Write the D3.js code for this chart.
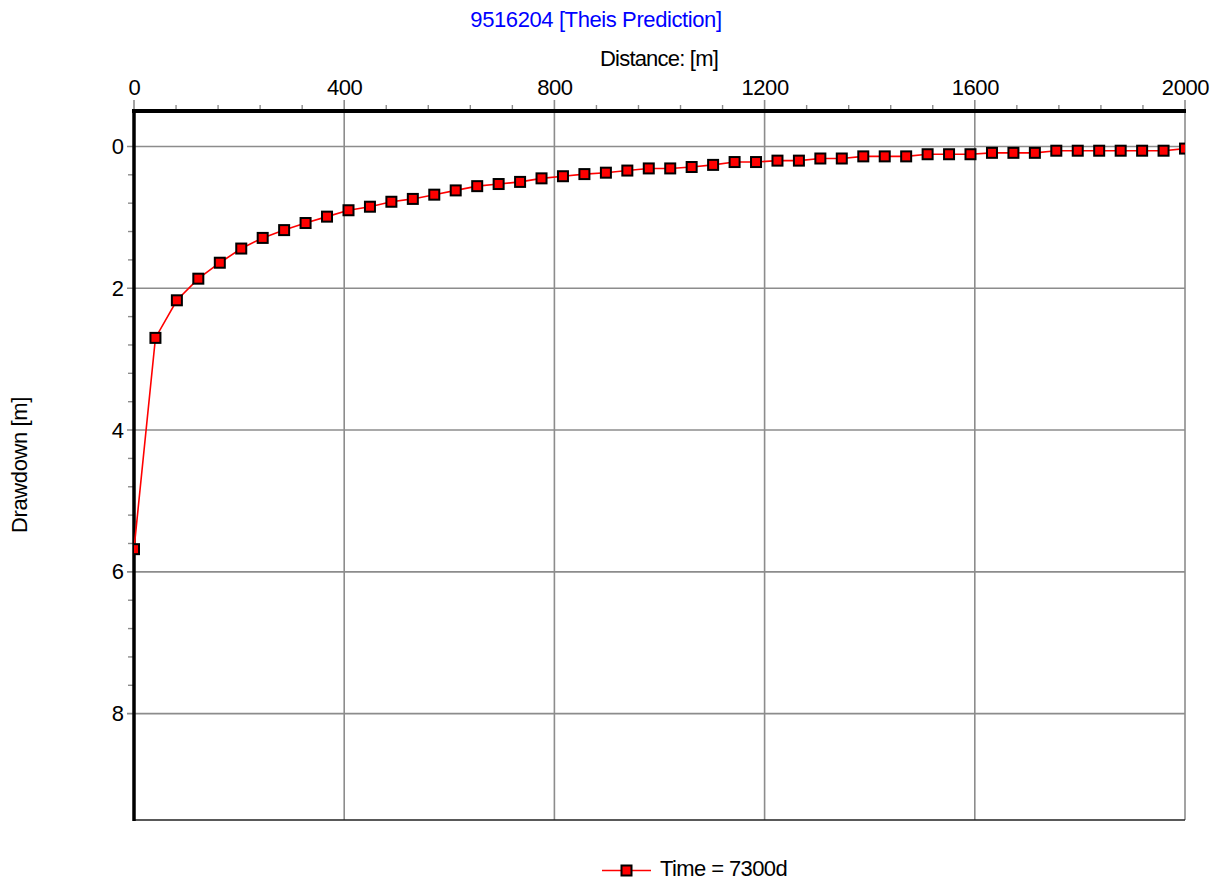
<!DOCTYPE html>
<html>
<head>
<meta charset="utf-8">
<script src="https://cdn.jsdelivr.net/npm/d3@7"></script>
<style>
  body { margin: 0; background: #ffffff; }
  svg text { font-family: "Liberation Sans", Arial, sans-serif; }
</style>
</head>
<body>
<svg id="chart" width="1226" height="880"></svg>
<script>
// Theis drawdown prediction along a radial profile, t = 7300 d
const distances = [
  0, 40.8, 81.6, 122.4, 163.3, 204.1, 244.9, 285.7, 326.5, 367.3,
  408.2, 449.0, 489.8, 530.6, 571.4, 612.2, 653.1, 693.9, 734.7, 775.5,
  816.3, 857.1, 898.0, 938.8, 979.6, 1020.4, 1061.2, 1102.0, 1142.9, 1183.7,
  1224.5, 1265.3, 1306.1, 1346.9, 1387.8, 1428.6, 1469.4, 1510.2, 1551.0, 1591.8,
  1632.7, 1673.5, 1714.3, 1755.1, 1795.9, 1836.7, 1877.6, 1918.4, 1959.2, 2000
];
const drawdown = [
  5.68, 2.70, 2.17, 1.865, 1.64, 1.44, 1.29, 1.18, 1.08, 0.99,
  0.90, 0.85, 0.78, 0.74, 0.68, 0.62, 0.56, 0.53, 0.50, 0.45,
  0.42, 0.39, 0.37, 0.34, 0.31, 0.31, 0.29, 0.26, 0.22, 0.22,
  0.20, 0.20, 0.17, 0.17, 0.14, 0.14, 0.14, 0.11, 0.11, 0.11,
  0.09, 0.09, 0.09, 0.06, 0.06, 0.06, 0.06, 0.06, 0.06, 0.03
];
const xTicks = [0, 400, 800, 1200, 1600, 2000];
const xMinorTicks = [80, 160, 240, 320, 480, 560, 640, 720, 880, 960, 1040, 1120,
                     1280, 1360, 1440, 1520, 1680, 1760, 1840, 1920];
const yTicks = [0, 2, 4, 6, 8];
const yMinorTicks = [0.4, 0.8, 1.2, 1.6, 2.4, 2.8, 3.2, 3.6, 4.4, 4.8, 5.2, 5.6,
                     6.4, 6.8, 7.2, 7.6];

const chartTitle = "9516204 [Theis Prediction]";
const xTitle = "Distance: [m]";
const yTitle = "Drawdown [m]";
const seriesName = "Time = 7300d";

const svg = d3.select("#chart");
const plotL = 134, plotR = 1185, plotT = 111, plotB = 820;

const x = d3.scaleLinear().domain([0, 2000]).range([plotL, plotR]);
const y = d3.scaleLinear().domain([-0.5, 9.5]).range([plotT, plotB]);

const gridColor = "#8c8c8c";

// Vertical grid lines (reach a little above the top axis)
svg.append("g").selectAll("line").data(xTicks).join("line")
  .attr("x1", d => x(d)).attr("x2", d => x(d))
  .attr("y1", plotT - 11).attr("y2", plotB)
  .attr("stroke", gridColor).attr("stroke-width", 1.6);

// Horizontal grid lines (reach a little left of the y axis)
svg.append("g").selectAll("line").data(yTicks).join("line")
  .attr("x1", plotL - 7).attr("x2", plotR)
  .attr("y1", d => y(d)).attr("y2", d => y(d))
  .attr("stroke", gridColor).attr("stroke-width", 1.6);

// Minor ticks
svg.append("g").selectAll("line").data(xMinorTicks).join("line")
  .attr("x1", d => x(d)).attr("x2", d => x(d))
  .attr("y1", plotT - 6).attr("y2", plotT)
  .attr("stroke", gridColor).attr("stroke-width", 1.4);
svg.append("g").selectAll("line").data(yMinorTicks).join("line")
  .attr("x1", plotL - 6).attr("x2", plotL)
  .attr("y1", d => y(d)).attr("y2", d => y(d))
  .attr("stroke", gridColor).attr("stroke-width", 1.4);

// Bottom frame line
svg.append("line")
  .attr("x1", plotL).attr("x2", plotR).attr("y1", plotB).attr("y2", plotB)
  .attr("stroke", "#222").attr("stroke-width", 1.6);

// Axis lines
svg.append("line")
  .attr("x1", plotL - 2).attr("x2", plotR + 1).attr("y1", plotT).attr("y2", plotT)
  .attr("stroke", "#000").attr("stroke-width", 4);
svg.append("line")
  .attr("x1", plotL).attr("x2", plotL).attr("y1", plotT - 2).attr("y2", plotB + 1)
  .attr("stroke", "#000").attr("stroke-width", 3.5);

// Tick labels through d3 axes
const xAxis = svg.append("g").attr("transform", `translate(0,${plotT})`)
  .call(d3.axisTop(x).tickValues(xTicks).tickSize(0).tickPadding(16).tickFormat(d3.format("d")));
xAxis.select(".domain").remove();
xAxis.attr("font-size", 22).attr("font-family", null);
xAxis.selectAll("text").attr("fill", "#000").attr("letter-spacing", "-0.4px");

const yAxis = svg.append("g").attr("transform", `translate(${plotL},0)`)
  .call(d3.axisLeft(y).tickValues(yTicks).tickSize(0).tickPadding(10).tickFormat(d3.format("d")));
yAxis.select(".domain").remove();
yAxis.attr("font-size", 22).attr("font-family", null);
yAxis.selectAll("text").attr("fill", "#000");

// Titles
svg.append("text").attr("x", 596).attr("y", 27).attr("text-anchor", "middle")
  .attr("font-size", 22).attr("letter-spacing", "-0.4px")
  .attr("fill", "#0000ff").text(chartTitle);
svg.append("text").attr("x", 659).attr("y", 66).attr("text-anchor", "middle")
  .attr("font-size", 22).attr("letter-spacing", "-0.8px")
  .attr("fill", "#000").text(xTitle);
svg.append("text").attr("transform", "translate(27,465) rotate(-90)")
  .attr("text-anchor", "middle").attr("font-size", 22).attr("letter-spacing", "-0.4px")
  .attr("fill", "#000").text(yTitle);

// Data series, clipped to the plotting area
svg.append("clipPath").attr("id", "plotClip")
  .append("rect").attr("x", plotL).attr("y", plotT).attr("width", plotR - plotL).attr("height", plotB - plotT);

const pts = distances.map((d, i) => [d, drawdown[i]]);
const plot = svg.append("g").attr("clip-path", "url(#plotClip)");

plot.append("path").datum(pts)
  .attr("fill", "none").attr("stroke", "#ff0000").attr("stroke-width", 1.6)
  .attr("d", d3.line().x(d => x(d[0])).y(d => y(d[1])));

const m = 10;
plot.selectAll("rect.mk").data(pts).join("rect").attr("class", "mk")
  .attr("x", d => x(d[0]) - m / 2).attr("y", d => y(d[1]) - m / 2)
  .attr("width", m).attr("height", m)
  .attr("fill", "#ff0000").attr("stroke", "#000").attr("stroke-width", 2);

// Legend
const legY = 870.5;
svg.append("line").attr("x1", 602).attr("x2", 651).attr("y1", legY).attr("y2", legY)
  .attr("stroke", "#ff0000").attr("stroke-width", 1.6);
svg.append("rect").attr("x", 626.5 - m / 2).attr("y", legY - m / 2).attr("width", m).attr("height", m)
  .attr("fill", "#ff0000").attr("stroke", "#000").attr("stroke-width", 2);
svg.append("text").attr("x", 660).attr("y", 876).attr("font-size", 22).attr("letter-spacing", "-0.6px")
  .attr("fill", "#000").text(seriesName);
</script>
</body>
</html>
